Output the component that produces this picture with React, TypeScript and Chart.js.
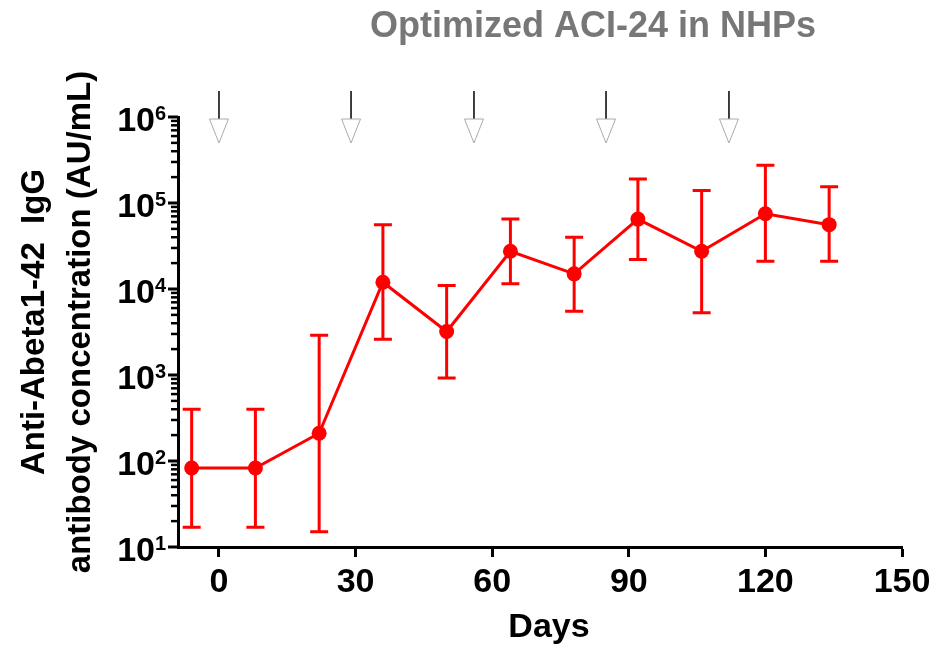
import { useEffect, useRef } from 'react';
import { Chart, registerables } from 'chart.js';

Chart.register(...registerables);

const FONT = "'Liberation Sans', Arial, Helvetica, sans-serif";

const chartTitle = 'Optimized ACI-24 in NHPs';
const xTitle = 'Days';
const yTitleLines = ['Anti-Abeta1-42  IgG', 'antibody concentration (AU/mL)'];

const days = [-6, 8, 22, 36, 50, 64, 78, 92, 106, 120, 134];
const means = [83, 83, 210, 12000, 3200, 27500, 15000, 65000, 27500, 75000, 56000];
const errHigh = [400, 400, 2900, 56000, 11000, 65000, 40000, 190000, 140000, 275000, 155000];
const errLow = [17, 17, 15, 2600, 920, 11500, 5500, 22000, 5300, 21000, 21000];
const doseDays = [0, 29, 56, 85, 112];
const xTicks = [0, 30, 60, 90, 120, 150];
const yExponents = [1, 2, 3, 4, 5, 6];

export default function App() {
  const ref = useRef<HTMLCanvasElement>(null);

  useEffect(() => {
    if (!ref.current) return;

    const overlay = {
      id: 'overlay',
      beforeDatasetsDraw(chart: any) {
        const ctx = chart.ctx;
        const xs = chart.scales.x;
        const ys = chart.scales.y;
        ctx.save();
        ctx.strokeStyle = '#ff0000';
        ctx.lineWidth = 3;
        days.forEach((d, i) => {
          const px = xs.getPixelForValue(d);
          const top = ys.getPixelForValue(errHigh[i]);
          const bot = ys.getPixelForValue(errLow[i]);
          ctx.beginPath();
          ctx.moveTo(px, top);
          ctx.lineTo(px, bot);
          ctx.moveTo(px - 9, top);
          ctx.lineTo(px + 9, top);
          ctx.moveTo(px - 9, bot);
          ctx.lineTo(px + 9, bot);
          ctx.stroke();
        });
        ctx.restore();
      },
      afterDraw(chart: any) {
        const ctx = chart.ctx;
        const xs = chart.scales.x;
        const ys = chart.scales.y;
        const left = chart.chartArea.left;
        ctx.save();
        // y ticks
        ctx.strokeStyle = '#000';
        yExponents.forEach((e) => {
          const mults = e < 6 ? [1, 2, 3, 4, 5, 6, 7, 8, 9] : [1];
          mults.forEach((m) => {
            const v = m * Math.pow(10, e);
            const py = ys.getPixelForValue(v);
            ctx.beginPath();
            ctx.lineWidth = m === 1 ? 3 : 2.5;
            ctx.moveTo(left - (m === 1 ? 10 : 7), py);
            ctx.lineTo(left, py);
            ctx.stroke();
          });
        });
        // y labels 10^n
        ctx.fillStyle = '#000';
        yExponents.forEach((e) => {
          const py = ys.getPixelForValue(Math.pow(10, e));
          ctx.font = `bold 34px ${FONT}`;
          ctx.textAlign = 'right';
          ctx.textBaseline = 'alphabetic';
          ctx.fillText('10', 155, py + 14);
          ctx.font = `bold 20px ${FONT}`;
          ctx.textAlign = 'left';
          ctx.fillText(String(e), 155, py + 3);
        });
        // dose arrows
        doseDays.forEach((d) => {
          const px = xs.getPixelForValue(d);
          ctx.beginPath();
          ctx.strokeStyle = '#000';
          ctx.lineWidth = 1.5;
          ctx.moveTo(px, 91);
          ctx.lineTo(px, 119);
          ctx.stroke();
          ctx.beginPath();
          ctx.moveTo(px - 9.5, 119);
          ctx.lineTo(px + 9.5, 119);
          ctx.lineTo(px, 143);
          ctx.closePath();
          ctx.fillStyle = '#fff';
          ctx.fill();
          ctx.strokeStyle = '#aaaaaa';
          ctx.lineWidth = 1;
          ctx.stroke();
        });
        // chart title
        ctx.fillStyle = '#777777';
        ctx.font = `bold 36px ${FONT}`;
        ctx.textAlign = 'center';
        ctx.textBaseline = 'alphabetic';
        ctx.fillText(chartTitle, 593, 37);
        // x title
        ctx.fillStyle = '#000';
        ctx.font = `bold 34px ${FONT}`;
        ctx.fillText(xTitle, 549, 637);
        // y title
        ctx.translate(0, 322);
        ctx.rotate(-Math.PI / 2);
        ctx.font = `bold 33px ${FONT}`;
        ctx.fillText(yTitleLines[0], 0, 44);
        ctx.fillText(yTitleLines[1], 0, 90);
        ctx.restore();
      },
    };

    const chart = new Chart(ref.current, {
      type: 'line',
      data: {
        datasets: [
          {
            data: days.map((d, i) => ({ x: d, y: means[i] })),
            borderColor: '#ff0000',
            backgroundColor: '#ff0000',
            borderWidth: 3,
            pointRadius: 7.5,
            pointHoverRadius: 7.5,
            pointBorderWidth: 0,
            tension: 0,
          },
        ],
      },
      options: {
        responsive: false,
        animation: false,
        events: [],
        layout: { padding: { left: 0, top: 117, right: 41, bottom: 0 } },
        plugins: { legend: { display: false }, tooltip: { enabled: false }, title: { display: false } },
        scales: {
          x: {
            type: 'linear',
            min: -9,
            max: 150,
            afterBuildTicks: (s: any) => {
              s.ticks = xTicks.map((v) => ({ value: v }));
            },
            afterFit: (s: any) => {
              s.height = 103;
            },
            grid: { drawOnChartArea: false, drawTicks: true, tickLength: 10, tickWidth: 3, tickColor: '#000' },
            border: { display: true, color: '#000', width: 3 },
            ticks: {
              font: { family: FONT, size: 34, weight: 'bold' },
              color: '#000',
              padding: 5,
              maxRotation: 0,
              autoSkip: false,
            },
          },
          y: {
            type: 'logarithmic',
            min: 10,
            max: 1e6,
            afterFit: (s: any) => {
              s.width = 178;
            },
            grid: { drawOnChartArea: false, drawTicks: false },
            border: { display: true, color: '#000', width: 3 },
            ticks: { display: false },
          },
        },
      },
      plugins: [overlay],
    } as any);

    return () => chart.destroy();
  }, []);

  return (
    <div style={{ position: 'absolute', left: 0, top: 0, width: 943, height: 650 }}>
      <canvas ref={ref} width={943} height={650} />
    </div>
  );
}
